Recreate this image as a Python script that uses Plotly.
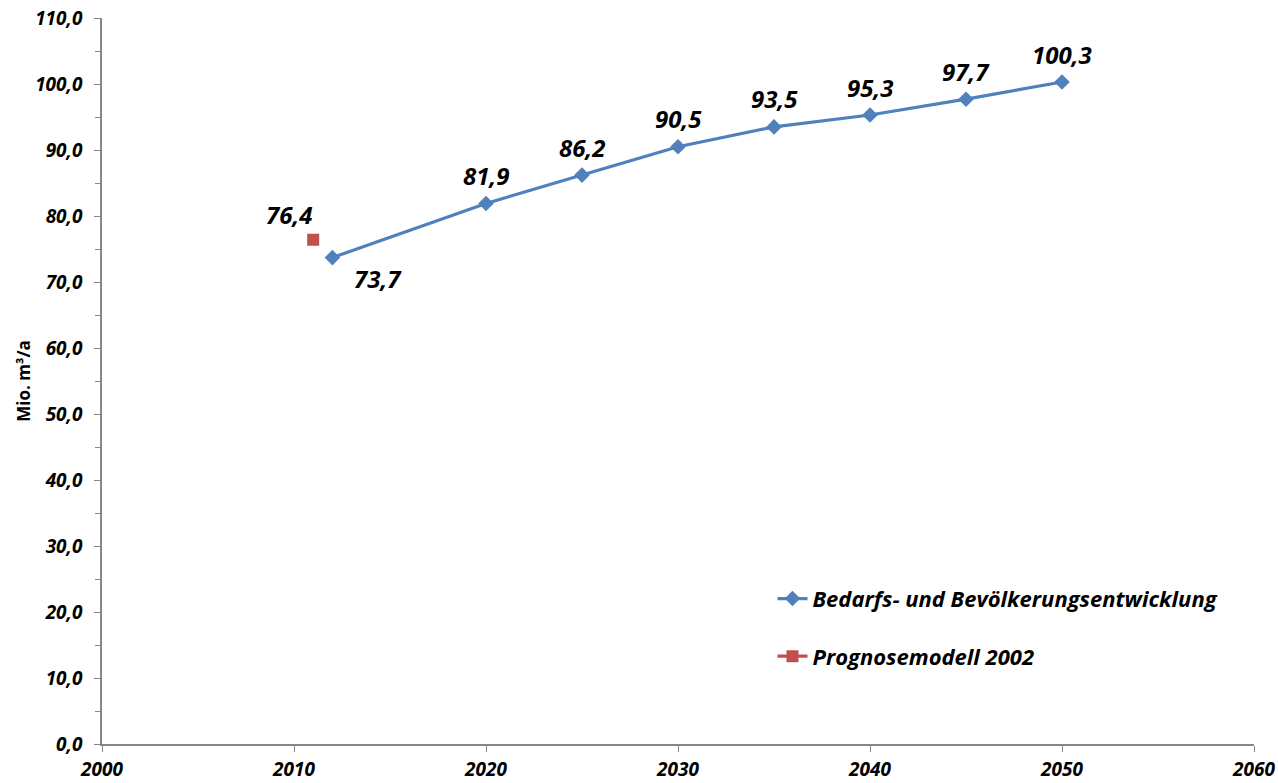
import plotly.graph_objects as go

years_bedarf = [2012, 2020, 2025, 2030, 2035, 2040, 2045, 2050]
values_bedarf = [73.7, 81.9, 86.2, 90.5, 93.5, 95.3, 97.7, 100.3]

years_prog = [2011]
values_prog = [76.4]

name_bedarf = "Bedarfs- und Bevölkerungsentwicklung"
name_prog = "Prognosemodell 2002"

# label offsets (pixels) for the value labels
off_bedarf = [(46, -21)] + [(0, 28)] * 7
off_prog = [(-24, 25)]

FONT = "Open Sans"
label_font = dict(family=FONT, size=24, color="black", weight="bold", style="italic")

fig = go.Figure()
fig.add_trace(go.Scatter(
    x=years_bedarf, y=values_bedarf, name=name_bedarf, legendgroup="a",
    mode="lines+markers",
    line=dict(color="#4F81BD", width=3.2),
    marker=dict(symbol="diamond", size=12, color="#4F81BD"),
))
fig.add_trace(go.Scatter(
    x=years_prog, y=values_prog, name=name_prog, legendgroup="b",
    mode="lines+markers",
    line=dict(color="#C0504D", width=3.2),
    marker=dict(symbol="square", size=12, color="#C0504D"),
))

for xs, ys, offs in [(years_bedarf, values_bedarf, off_bedarf), (years_prog, values_prog, off_prog)]:
    for xv, yv, (dx, dy) in zip(xs, ys, offs):
        fig.add_annotation(
            x=xv, y=yv, xref="x", yref="y",
            text=f"{yv:.1f}".replace(".", ","),
            showarrow=False, xshift=dx, yshift=dy,
            xanchor="center", yanchor="middle",
            font=label_font,
        )

axis_tick_font = dict(family=FONT, size=19, color="black", weight="bold", style="italic")

fig.update_layout(
    width=1278, height=783,
    margin=dict(l=102, r=24, t=18, b=39),
    paper_bgcolor="white", plot_bgcolor="white",
    separators=",.",
    showlegend=True,
    legend=dict(
        x=0.582, y=0.229, xanchor="left", yanchor="top",
        font=dict(family=FONT, size=22, color="black", weight="bold", style="italic"),
        tracegroupgap=26, bgcolor="rgba(0,0,0,0)",
    ),
    xaxis=dict(
        range=[2000, 2060], dtick=10, tick0=2000,
        showgrid=False, zeroline=False, automargin=False,
        showline=True, linecolor="#868686", linewidth=1.5,
        ticks="outside", ticklen=6, tickcolor="#868686",
        tickfont=axis_tick_font, ticklabelstandoff=1,
        ticklabeloverflow="allow",
    ),
    yaxis=dict(
        range=[0, 110], dtick=10, tickformat=".1f",
        showgrid=False, zeroline=False, automargin=False,
        showline=True, linecolor="#868686", linewidth=1.5,
        ticks="outside", ticklen=6, tickcolor="#868686",
        minor=dict(dtick=5, ticks="outside", ticklen=5, tickcolor="#868686", showgrid=False),
        tickfont=axis_tick_font, ticklabelstandoff=8,
        ticklabeloverflow="allow",
        title=dict(text="Mio. m³/a", font=dict(family=FONT, size=17, color="black", weight="bold"),
                   standoff=0),
    ),
)

# remove the default page margin so the figure fills the window exactly
fig.write_html("out.html", config={"displayModeBar": False},
               post_script="document.body.style.margin='0';")
